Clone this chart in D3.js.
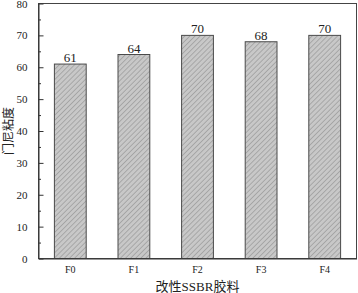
<!DOCTYPE html>
<html>
<head>
<meta charset="utf-8">
<script src="https://cdn.jsdelivr.net/npm/d3@7"></script>
<style>
  body { margin: 0; background: #fff; }
  svg text { font-family: "Liberation Serif", "DejaVu Serif", "Noto Sans CJK SC", serif; fill: #222; }
  .cjk { font-family: "Liberation Serif", "Noto Sans CJK SC", serif; }
</style>
</head>
<body>
<div class="chart"></div>
<script>
const samples = ['F0', 'F1', 'F2', 'F3', 'F4'];
const viscosity = [61, 64, 70, 68, 70];
const yTickValues = [0, 10, 20, 30, 40, 50, 60, 70, 80];

const w = 358, h = 293;
const margin = {top: 3.5, right: 1.5, bottom: 34.5, left: 38.5};
const width = w - margin.left - margin.right;
const height = h - margin.top - margin.bottom;

const data = samples.map((s, i) => ({name: s, value: viscosity[i]}));

const svg = d3.select('.chart').append('svg')
  .attr('width', w)
  .attr('height', h);

// diagonal hatch like the original fill
const defs = svg.append('defs');
const pat = defs.append('pattern')
  .attr('id', 'hatch')
  .attr('patternUnits', 'userSpaceOnUse')
  .attr('width', 3.6)
  .attr('height', 3.6)
  .attr('patternTransform', 'rotate(45)');
pat.append('rect').attr('width', 3.6).attr('height', 3.6).attr('fill', '#c8c8c8');
pat.append('line')
  .attr('x1', 0).attr('y1', 0).attr('x2', 0).attr('y2', 3.6)
  .attr('stroke', '#808080').attr('stroke-width', 0.9);

const g = svg.append('g')
  .attr('transform', `translate(${margin.left},${margin.top})`);

const x = d3.scaleBand()
  .domain(samples)
  .range([0, width])
  .paddingInner(0.5)
  .paddingOuter(0.25);

const y = d3.scaleLinear()
  .domain([0, 80])
  .range([height, 0]);

// bars
g.selectAll('.bar')
  .data(data)
  .enter().append('rect')
  .attr('class', 'bar')
  .attr('x', d => x(d.name))
  .attr('y', d => y(d.value))
  .attr('width', x.bandwidth())
  .attr('height', d => height - y(d.value))
  .attr('fill', 'url(#hatch)')
  .attr('stroke', '#4a4a4a')
  .attr('stroke-width', 1);

// value labels
g.selectAll('.val')
  .data(data)
  .enter().append('text')
  .attr('class', 'val')
  .attr('x', d => x(d.name) + x.bandwidth() / 2)
  .attr('y', d => y(d.value) - 2)
  .attr('text-anchor', 'middle')
  .style('font-size', '13px')
  .text(d => d.value);

// frame
g.append('rect')
  .attr('width', width)
  .attr('height', height)
  .attr('fill', 'none')
  .attr('stroke', '#444')
  .attr('stroke-width', 1);

// y axis: major ticks inward
const yAxis = g.append('g')
  .call(d3.axisLeft(y).tickValues(yTickValues).tickSizeInner(-5).tickSizeOuter(0).tickPadding(11));
yAxis.select('.domain').attr('stroke', '#333');
yAxis.selectAll('line').attr('stroke', '#333');
yAxis.selectAll('text').style('font-size', '11px').attr('fill', '#222');

// minor ticks
g.append('g')
  .call(d3.axisLeft(y).tickValues(d3.range(5, 80, 10)).tickSizeInner(-2.5).tickSizeOuter(0).tickFormat(''))
  .call(s => s.select('.domain').remove())
  .selectAll('line').attr('stroke', '#333');

// x axis
const xAxis = g.append('g')
  .attr('transform', `translate(0,${height})`)
  .call(d3.axisBottom(x).tickSize(0).tickPadding(7));
xAxis.select('.domain').attr('stroke', '#333');
xAxis.selectAll('text').style('font-size', '10px').attr('fill', '#222');

// axis titles
svg.append('text')
  .attr('class', 'cjk')
  .attr('transform', `translate(10,${margin.top + height / 2}) rotate(-90)`)
  .attr('text-anchor', 'middle')
  .attr('dominant-baseline', 'middle')
  .style('font-size', '12px')
  .text('门尼粘度');

svg.append('text')
  .attr('class', 'cjk')
  .attr('x', margin.left + width / 2)
  .attr('y', 291)
  .attr('text-anchor', 'middle')
  .style('font-size', '13px')
  .text('改性SSBR胶料');
</script>
</body>
</html>
